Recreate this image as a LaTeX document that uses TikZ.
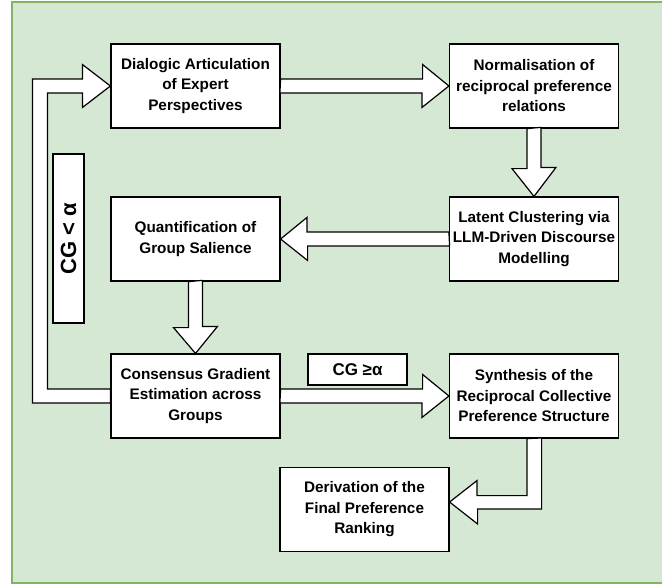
\documentclass[tikz,border=0pt]{standalone}
\usepackage{fontspec}
\setmainfont{Liberation Sans}
\usetikzlibrary{positioning}
\usetikzlibrary{calc}
\definecolor{bggreen}{HTML}{D5E8D4}
\definecolor{bgborder}{HTML}{82B366}
\tikzset{
  stage/.style={draw,fill=white,line width=1.2pt,minimum width=169pt,minimum height=84pt,inner sep=1pt,align=center,font=\fontsize{15.3}{20.5}\selectfont\bfseries},
  cond/.style={draw,fill=white,line width=1.2pt,inner sep=0pt,font=\bfseries},
  hollow/.style={draw,fill=white,line width=1.2pt,line join=miter}
}

\begin{document}
\begin{tikzpicture}[x=1pt,y=-1pt]
       \useasboundingbox (0,0) rectangle (662,584);
       \draw[bgborder,fill=bggreen,line width=1.5pt] (12,2) rectangle (675,583);
       % stages
       \node[stage] (dialog) at (195.5,86) {Dialogic Articulation\\of Expert\\Perspectives};
       \node[stage] (norm) at (534,86) {Normalisation of\\reciprocal preference\\relations};
       \node[stage] (latent) at (534,239) {Latent Clustering via\\LLM-Driven Discourse\\Modelling};
       \node[stage] (quant) at (195.5,239) {Quantification of\\Group Salience};
       \node[stage] (cons) at (195.5,396) {Consensus Gradient\\Estimation across\\Groups};
       \node[stage] (synth) at (534,396) {Synthesis of the\\Reciprocal Collective\\Preference Structure};
       \node[stage] (deriv) at (364.5,509.5) {Derivation of the\\Final Preference\\Ranking};
       % conditions
       \node[cond,rotate=90,minimum width=169pt,minimum height=31pt,font=\fontsize{22}{24}\selectfont\bfseries] (low) at (68.5,238.5) {CG < α};
       \node[cond,minimum width=99pt,minimum height=31pt,font=\fontsize{17}{20}\selectfont\bfseries] (high) at (357.5,369.5) {CG ≥α};
       % block arrows
       \draw[hollow] (dialog.east) ++(0,-7) -- ++(142,0) -- ++(0,-14.5) -- (norm.west) -- ++(-27,21.5) -- ++(0,-14.5) -- ++(-142,0) -- cycle;
       \draw[hollow] (norm.south) ++(-7,0) -- ++(0,40) -- ++(-15,0) -- (latent.north) -- ++(22,-29) -- ++(-15,0) -- ++(0,-40) -- cycle;
       \draw[hollow] (latent.west) ++(0,-7) -- ++(-142,0) -- ++(0,-14.5) -- (quant.east) -- ++(27,21.5) -- ++(0,-14.5) -- ++(142,0) -- cycle;
       \draw[hollow] (quant.south) ++(-7,0) -- ++(0,46) -- ++(-15,0) -- (cons.north) -- ++(22,-27) -- ++(-15,0) -- ++(0,-46) -- cycle;
       \draw[hollow] (cons.east) ++(0,-7) -- ++(142,0) -- ++(0,-14.5) -- (synth.west) -- ++(-27,21.5) -- ++(0,-14.5) -- ++(-142,0) -- cycle;
       \coordinate (dtip) at ($(deriv.east)+(0,-7.5)$);
       \draw[hollow] (synth.south) ++(-7,0) -- ++(0,57) -- ++(-50,0) -- ++(0,-15) -- (dtip) -- ++(28,22) -- ++(0,-15) -- ++(64,0) -- ++(0,-71) -- cycle;
       % feedback loop
       \draw[hollow] (cons.west) ++(0,-7) -- ++(-63,0) -- ++(0,-296) -- ++(35,0) -- ++(0,14.5) -- (dialog.west) -- ++(-28,-21.5) -- ++(0,14.5) -- ++(-50,0) -- ++(0,324) -- ++(78,0) -- cycle;
\end{tikzpicture}
\end{document}
